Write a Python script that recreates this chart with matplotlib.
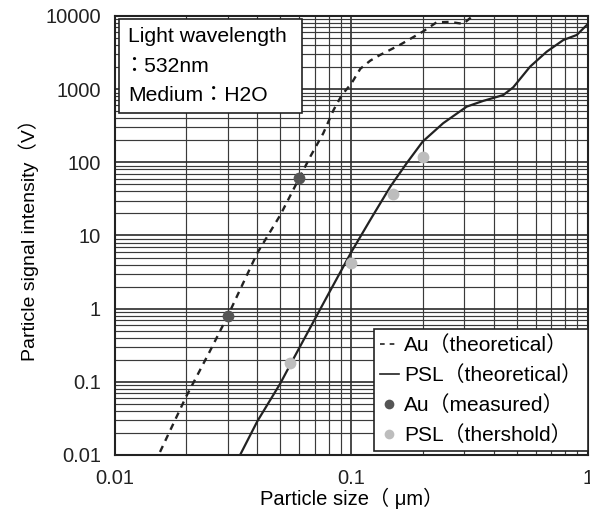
import matplotlib
matplotlib.use('Agg')
import matplotlib.pyplot as plt
from matplotlib.lines import Line2D
from matplotlib.patches import Rectangle
from matplotlib.ticker import FixedLocator, LogLocator, NullFormatter, FixedFormatter

plt.rcParams['font.family'] = ['Liberation Sans', 'Noto Sans CJK JP', 'DejaVu Sans']

# Au theoretical (dashed)
au_th_x = [0.0155, 0.02, 0.025, 0.03, 0.04, 0.05, 0.06, 0.067, 0.076, 0.084, 0.091,
           0.1, 0.105, 0.109, 0.12, 0.132, 0.16, 0.2, 0.229, 0.26, 0.297, 0.325]
au_th_y = [0.011, 0.063, 0.25, 0.8, 5.8, 19, 60, 120, 250, 520, 830,
           1200, 1560, 1900, 2450, 2930, 4020, 6100, 8200, 8300, 7800, 10000]

# PSL theoretical (solid)
psl_th_x = [0.0338, 0.04, 0.05, 0.055, 0.07, 0.08, 0.1, 0.12, 0.146, 0.171, 0.2,
            0.244, 0.307, 0.36, 0.438, 0.483, 0.569, 0.669, 0.787, 0.896, 1.0]
psl_th_y = [0.01, 0.029, 0.095, 0.17, 0.72, 1.6, 6, 16.3, 46.6, 97, 192,
            342, 577, 690, 830, 1060, 2030, 3250, 4700, 5500, 7800]

# measured / threshold points
au_meas_x = [0.03, 0.06]
au_meas_y = [0.8, 62]
psl_thr_x = [0.055, 0.1, 0.15, 0.2]
psl_thr_y = [0.18, 4.2, 37, 120]

x_ticks = [0.01, 0.1, 1]
x_labels = ['0.01', '0.1', '1']
y_ticks = [0.01, 0.1, 1, 10, 100, 1000, 10000]
y_labels = ['0.01', '0.1', '1', '10', '100', '1000', '10000']

fig = plt.figure(figsize=(5.9, 5.14), dpi=100)
ax = fig.add_axes([0.1949, 0.1148, 0.8017, 0.8541])
ax.set_xscale('log')
ax.set_yscale('log')
ax.set_xlim(0.01, 1)
ax.set_ylim(0.01, 10000)

dark = '#222222'
ax.plot(au_th_x, au_th_y, color=dark, lw=1.7, linestyle=(0, (2.8, 2.4)), zorder=3)
ax.plot(psl_th_x, psl_th_y, color=dark, lw=1.6, zorder=3)
ax.plot(au_meas_x, au_meas_y, 'o', color='#555555', ms=8.5, mec='none', zorder=4)
ax.plot(psl_thr_x, psl_thr_y, 'o', color='#bdbdbd', ms=8.5, mec='none', zorder=4)

ax.xaxis.set_major_locator(FixedLocator(x_ticks))
ax.xaxis.set_major_formatter(FixedFormatter(x_labels))
ax.yaxis.set_major_locator(FixedLocator(y_ticks))
ax.yaxis.set_major_formatter(FixedFormatter(y_labels))
ax.xaxis.set_minor_locator(LogLocator(base=10, subs=range(2, 10)))
ax.yaxis.set_minor_locator(LogLocator(base=10, subs=range(2, 10)))
ax.xaxis.set_minor_formatter(NullFormatter())
ax.yaxis.set_minor_formatter(NullFormatter())
ax.tick_params(which='both', length=0, labelsize=14.5, colors='#222222')
ax.tick_params(axis='x', pad=10)
ax.tick_params(axis='y', pad=10)

ax.set_axisbelow(True)
ax.grid(which='major', color='#2a2a2a', lw=1.2)
ax.grid(which='minor', color='#3a3a3a', lw=0.85)
for s in ax.spines.values():
    s.set_color('#222222')
    s.set_linewidth(1.5)

ax.set_xlabel('Particle size（ μm）', fontsize=14.5, labelpad=0)
ax.set_ylabel('Particle signal intensity（V）', fontsize=14, labelpad=5)

# info box upper left
ax.add_patch(Rectangle((0.0085, 0.779), 0.387, 0.214, transform=ax.transAxes,
                       facecolor='white', edgecolor='#222222', lw=1.2, zorder=5))
ax.text(0.027, 0.954, 'Light wavelength', transform=ax.transAxes, fontsize=15.2,
        va='center', zorder=6)
ax.text(0.018, 0.886, '：532nm', transform=ax.transAxes, fontsize=15.2,
        va='center', zorder=6)
ax.text(0.027, 0.818, 'Medium：H2O', transform=ax.transAxes, fontsize=15.2,
        va='center', zorder=6)

handles = [
    Line2D([], [], color=dark, lw=1.2, linestyle=(0, (2.8, 3.0))),
    Line2D([], [], color=dark, lw=1.2),
    Line2D([], [], marker='o', color='#555555', linestyle='none', ms=7, mec='none'),
    Line2D([], [], marker='o', color='#bdbdbd', linestyle='none', ms=7, mec='none'),
]
labels = ['Au（theoretical）', 'PSL（theoretical）', 'Au（measured）', 'PSL（thershold）']
leg = ax.legend(handles, labels, loc='lower right', bbox_to_anchor=(1.0, 0.009),
                borderaxespad=0, fontsize=15, handlelength=0.9, handletextpad=0.25,
                labelspacing=0.48, borderpad=0.3, fancybox=False, framealpha=1,
                edgecolor='#222222')
leg.get_frame().set_linewidth(1.2)
leg.set_zorder(6)

fig.savefig('out.png', dpi=100)
